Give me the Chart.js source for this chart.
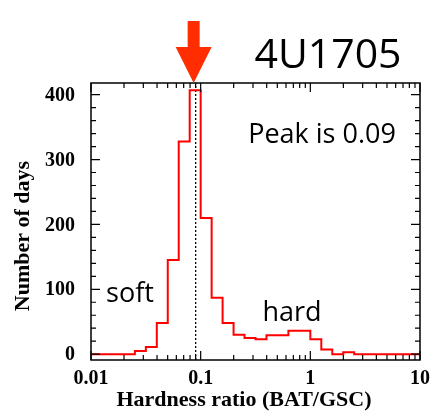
<!DOCTYPE html>
<html>
<head>
<meta charset="utf-8">
<script src="https://cdn.jsdelivr.net/npm/chart.js@4/dist/chart.umd.min.js"></script>
<style>
  html, body { margin: 0; padding: 0; background: #fff; }
  #wrap { width: 431px; height: 412px; position: relative; }
</style>
</head>
<body>
<div id="wrap"><canvas id="c" width="431" height="412"></canvas></div>
<script>
// Histogram of daily hardness ratio (BAT/GSC), bins of 0.1 dex starting at log10 = -2
const binStartLog = -2.0;
const binWidthLog = 0.1;
const dayCounts = [
  0, 0, 0, 0, 5, 11, 48, 145, 328, 407,
  210, 87, 48, 30, 25, 23, 29, 29, 36, 36,
  23, 7, 0, 3, 0, 0, 0, 0, 0, 0
];
const peakRatio = 0.09;
const xDecadeLabels = [0.01, 0.1, 1, 10];
const yMajorLabels = [0, 100, 200, 300, 400];
const yMinorStep = 20;
const xTitle = 'Hardness ratio (BAT/GSC)';
const yTitle = 'Number of days';
const sourceName = '4U1705';
const peakText = 'Peak is 0.09';

// Step outline: one point at each bin's lower edge, plus the closing edge
const outline = dayCounts.map((n, i) => ({ x: Math.pow(10, binStartLog + i * binWidthLog), y: n }));
outline.push({ x: Math.pow(10, binStartLog + dayCounts.length * binWidthLog), y: dayCounts[dayCounts.length - 1] });

function xTickValues() {
  const vals = [];
  for (let d = 0; d < xDecadeLabels.length - 1; d++) {
    for (let m = 1; m <= 9; m++) vals.push(xDecadeLabels[d] * m);
  }
  vals.push(xDecadeLabels[xDecadeLabels.length - 1]);
  return vals;
}
function isDecade(v) {
  return xDecadeLabels.some(d => Math.abs(v - d) / d < 1e-6);
}

const serif = '"Liberation Serif", "Times New Roman", serif';
const sans = '"Open Sans", "Noto Sans", sans-serif';
const tickFont = 'bold 20px ' + serif;
const titleFont = 'bold 22px ' + serif;

const framePlugin = {
  id: 'frameAndMarks',
  beforeDatasetsDraw(chart) {
    const ctx = chart.ctx;
    const xs = chart.scales.x;
    const a = chart.chartArea;
    // dotted line at the peak
    const px = xs.getPixelForValue(peakRatio);
    ctx.save();
    ctx.strokeStyle = '#000';
    ctx.lineWidth = 1.3;
    ctx.setLineDash([2, 2]);
    ctx.beginPath();
    ctx.moveTo(px, a.bottom);
    ctx.lineTo(px, a.top);
    ctx.stroke();
    ctx.restore();
  },
  afterDraw(chart) {
    const ctx = chart.ctx;
    const xs = chart.scales.x, ys = chart.scales.y;
    const a = chart.chartArea;
    ctx.save();
    ctx.strokeStyle = '#000';
    ctx.lineWidth = 1.5;
    ctx.strokeRect(a.left, a.top, a.right - a.left, a.bottom - a.top);
    ctx.lineWidth = 1.2;
    ctx.beginPath();
    // x ticks, inward on bottom and top
    xs.ticks.forEach(t => {
      const x = xs.getPixelForValue(t.value);
      const len = isDecade(t.value) ? 9 : 5;
      ctx.moveTo(x, a.bottom); ctx.lineTo(x, a.bottom - len);
      ctx.moveTo(x, a.top); ctx.lineTo(x, a.top + len);
    });
    // y ticks, inward on left and right
    ys.ticks.forEach(t => {
      const y = ys.getPixelForValue(t.value);
      const len = yMajorLabels.includes(t.value) ? 9 : 5;
      ctx.moveTo(a.left, y); ctx.lineTo(a.left + len, y);
      ctx.moveTo(a.right, y); ctx.lineTo(a.right - len, y);
    });
    ctx.stroke();

    // tick labels
    ctx.fillStyle = '#000';
    ctx.font = tickFont;
    ctx.textAlign = 'center';
    ctx.textBaseline = 'alphabetic';
    xDecadeLabels.forEach(v => {
      ctx.fillText(String(v), xs.getPixelForValue(v), a.bottom + 24);
    });
    ctx.textAlign = 'right';
    ctx.textBaseline = 'middle';
    yMajorLabels.forEach(v => {
      ctx.fillText(String(v), a.left - 16, ys.getPixelForValue(v) + 1);
    });

    // axis titles
    ctx.font = titleFont;
    ctx.textAlign = 'center';
    ctx.textBaseline = 'alphabetic';
    ctx.fillText(xTitle, 244, 406);
    ctx.save();
    ctx.translate(29, 236);
    ctx.rotate(-Math.PI / 2);
    ctx.fillText(yTitle, 0, 0);
    ctx.restore();

    // arrow pointing to the peak
    const ax = xs.getPixelForValue(peakRatio) - 2;
    ctx.fillStyle = 'rgb(255,45,0)';
    ctx.beginPath();
    ctx.moveTo(ax - 6, 21);
    ctx.lineTo(ax + 6, 21);
    ctx.lineTo(ax + 6, 47);
    ctx.lineTo(ax + 18, 47);
    ctx.lineTo(ax, a.top);
    ctx.lineTo(ax - 18, 47);
    ctx.lineTo(ax - 6, 47);
    ctx.closePath();
    ctx.fill();

    // annotations
    ctx.fillStyle = '#000';
    ctx.textAlign = 'center';
    ctx.textBaseline = 'alphabetic';
    ctx.font = '41px ' + sans;
    ctx.fillText(sourceName, 328, 68);
    ctx.font = '27px ' + sans;
    ctx.fillText(peakText, 322, 143);
    ctx.fillText('soft', 130, 302);
    ctx.fillText('hard', 292, 321);
    ctx.restore();
  }
};

new Chart(document.getElementById('c'), {
  type: 'line',
  data: {
    datasets: [{
      data: outline,
      stepped: 'before',
      borderColor: '#ff0000',
      borderWidth: 2,
      pointRadius: 0,
      fill: false
    }]
  },
  options: {
    responsive: false,
    animation: false,
    layout: { padding: { top: 83, right: 11, left: 0, bottom: 0 } },
    plugins: { legend: { display: false }, tooltip: { enabled: false } },
    scales: {
      x: {
        type: 'logarithmic',
        min: 0.01,
        max: 10,
        grid: { display: false },
        border: { display: false },
        afterBuildTicks(scale) {
          scale.ticks = xTickValues().map(v => ({ value: v }));
        },
        afterFit(scale) { scale.height = 52; },
        ticks: { display: false },
        title: { display: false }
      },
      y: {
        min: -9,
        max: 418,
        grid: { display: false },
        border: { display: false },
        afterBuildTicks(scale) {
          const t = [];
          for (let v = 0; v <= yMajorLabels[yMajorLabels.length - 1]; v += yMinorStep) t.push({ value: v });
          scale.ticks = t;
        },
        afterFit(scale) { scale.width = 91; },
        ticks: { display: false },
        title: { display: false }
      }
    }
  },
  plugins: [framePlugin]
});
</script>
</body>
</html>
